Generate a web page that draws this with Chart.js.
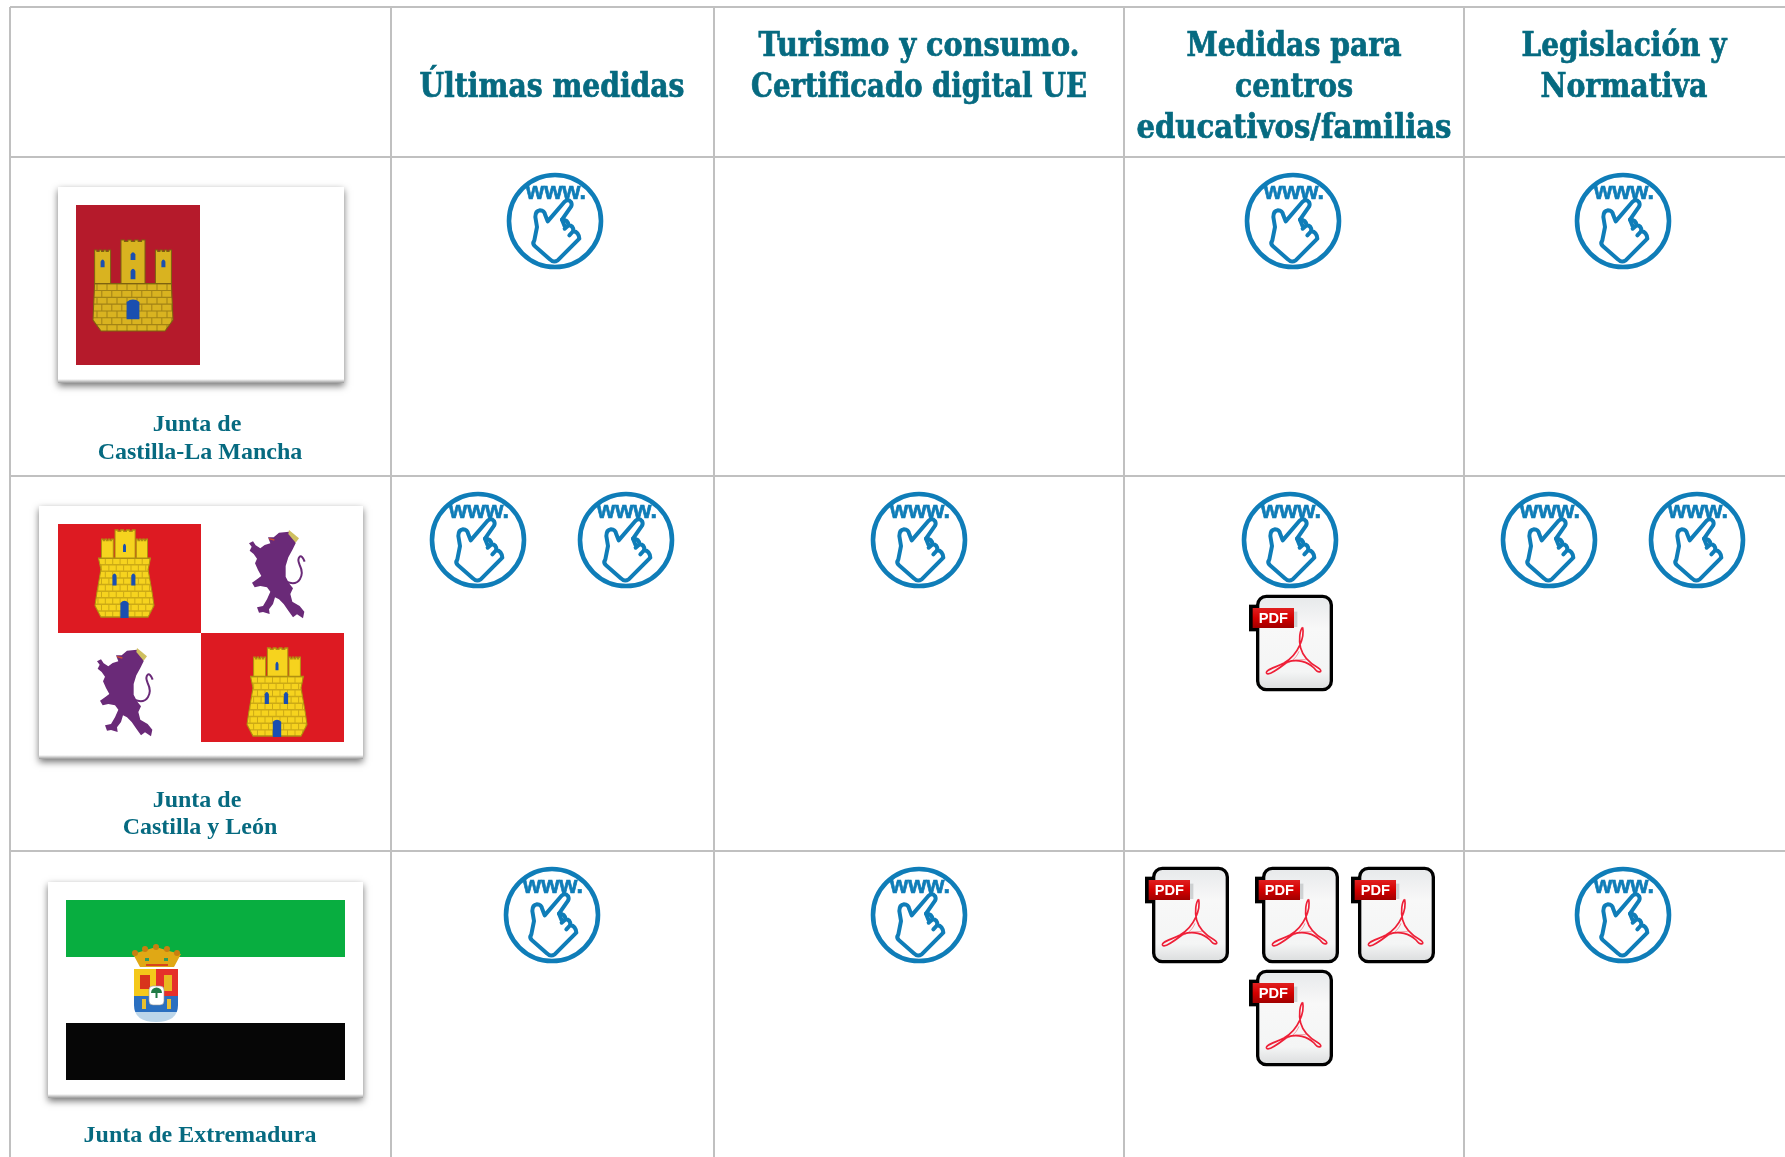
<!DOCTYPE html>
<html lang="es">
<head>
<meta charset="utf-8">
<title>Medidas por comunidad</title>
<script src="https://cdn.jsdelivr.net/npm/chart.js@4"></script>
<style>
  html, body { margin: 0; padding: 0; background: #fff; }
  canvas { display: block; }
</style>
</head>
<body>
<canvas id="tablaChart" width="1785" height="1157"></canvas>
<script>
// --- Datos ---
const columnEdges = [10, 391, 714, 1124, 1464];
const rowEdges = [7, 157, 476, 851];

const columnHeaders = [
    ['', 'Últimas medidas'],
    ['Turismo y consumo.', 'Certificado digital UE'],
    ['Medidas para', 'centros', 'educativos/familias'],
    ['Legislación y', 'Normativa']
];
const headerWidths = [
    [0, 265],
    [321, 336],
    [215, 118, 315],
    [205, 167]
];
const headerCenterX = [552, 919, 1294, 1624];
const headerLineY = [47, 88, 129];

const regionLabels = [
    ['Junta de', 'Castilla-La Mancha'],
    ['Junta de', 'Castilla y León'],
    ['Junta de Extremadura']
];
const regionLabelX = [[197, 200], [197, 200], [200]];
const regionLabelY = [[425, 453], [801, 828], [1136]];

const wwwX = [555, 1293, 1623, 478, 626, 919, 1290, 1549, 1697, 552, 919, 1623];
const wwwY = [221, 221, 221, 540, 540, 540, 540, 540, 540, 915, 915, 915];

const pdfX = [1291, 1187, 1297, 1393, 1291];
const pdfY = [643, 915, 915, 915, 1018];

const flagX = [201, 201, 205.5];
const flagY = [285, 632.5, 990];

// --- Iconos ---
function newCanvas(w, h) {
    const c = document.createElement('canvas');
    c.width = w;
    c.height = h;
    return c;
}

function makeWwwIcon() {
    const c = newCanvas(104, 104);
    const ctx = c.getContext('2d');
    const blue = '#0f7db8';
    ctx.translate(52, 52);
    ctx.strokeStyle = blue;
    ctx.lineWidth = 4.6;
    ctx.beginPath();
    ctx.arc(0, 0, 46, 0, Math.PI * 2);
    ctx.stroke();

    // mano, coordenadas del recorte 3x con centro en (197,182)
    ctx.save();
    ctx.scale(1 / 3, 1 / 3);
    ctx.translate(-197, -182);
    ctx.lineWidth = 12;
    ctx.lineJoin = 'round';
    ctx.lineCap = 'round';
    ctx.fillStyle = '#fff';
    ctx.beginPath();
    ctx.moveTo(175, 183);
    ctx.lineTo(225, 125);
    ctx.quadraticCurveTo(236, 115, 245, 125);
    ctx.quadraticCurveTo(250, 135, 243, 142);
    ctx.lineTo(218, 178);
    ctx.quadraticCurveTo(236, 178, 238, 195);
    ctx.quadraticCurveTo(252, 195, 252, 212);
    ctx.quadraticCurveTo(268, 215, 270, 235);
    ctx.lineTo(205, 300);
    ctx.quadraticCurveTo(193, 308, 183, 298);
    ctx.lineTo(137, 258);
    ctx.quadraticCurveTo(128, 250, 135, 240);
    ctx.lineTo(143, 200);
    ctx.lineTo(138, 170);
    ctx.quadraticCurveTo(138, 152, 152, 150);
    ctx.quadraticCurveTo(165, 150, 168, 165);
    ctx.closePath();
    ctx.fill();
    ctx.stroke();
    ctx.beginPath();
    ctx.moveTo(218, 178);
    ctx.lineTo(226, 198);
    ctx.moveTo(238, 195);
    ctx.lineTo(226, 205);
    ctx.moveTo(252, 212);
    ctx.lineTo(240, 225);
    ctx.stroke();
    ctx.restore();

    ctx.fillStyle = blue;
    ctx.lineWidth = 0.7;
    ctx.font = 'bold 24px "Liberation Sans"';
    ctx.textAlign = 'center';
    ctx.textBaseline = 'alphabetic';
    ctx.fillText('www.', 1, -22, 60);
    ctx.strokeText('www.', 1, -22, 60);
    return c;
}

function makePdfIcon() {
    const c = newCanvas(92, 104);
    const ctx = c.getContext('2d');
    // coordenadas del recorte 3x, centro (181,190)
    ctx.translate(46, 52);
    ctx.scale(1 / 3, 1 / 3);
    ctx.translate(-181, -190);

    ctx.fillStyle = '#000';
    ctx.fillRect(55, 75, 36, 80);

    const body = ctx.createLinearGradient(0, 45, 0, 335);
    body.addColorStop(0, '#e6e8ea');
    body.addColorStop(0.35, '#f8f8f8');
    body.addColorStop(0.8, '#f4f5f5');
    body.addColorStop(1, '#d8dadb');
    ctx.fillStyle = body;
    ctx.strokeStyle = '#000';
    ctx.lineWidth = 10;
    ctx.beginPath();
    ctx.roundRect(81, 50, 221, 280, 26);
    ctx.fill();
    ctx.stroke();

    ctx.fillStyle = 'rgba(170,175,178,0.5)';
    ctx.fillRect(190, 96, 10, 46);

    const red = ctx.createLinearGradient(0, 85, 0, 145);
    red.addColorStop(0, '#e02020');
    red.addColorStop(0.5, '#d40000');
    red.addColorStop(1, '#a00000');
    ctx.fillStyle = red;
    ctx.fillRect(66, 85, 124, 60);
    ctx.fillStyle = '#fff';
    ctx.font = 'bold 44px "Liberation Sans"';
    ctx.textAlign = 'center';
    ctx.textBaseline = 'middle';
    ctx.fillText('PDF', 128, 117);

    // logo
    ctx.strokeStyle = '#ee2038';
    ctx.lineWidth = 5;
    ctx.lineJoin = 'round';
    ctx.beginPath();
    ctx.moveTo(216, 143);
    ctx.bezierCurveTo(222, 170, 205, 225, 160, 250);
    ctx.bezierCurveTo(130, 265, 102, 272, 108, 281);
    ctx.bezierCurveTo(115, 290, 150, 262, 170, 247);
    ctx.bezierCurveTo(200, 238, 230, 245, 250, 265);
    ctx.bezierCurveTo(265, 285, 280, 275, 262, 264);
    ctx.bezierCurveTo(240, 252, 218, 235, 210, 205);
    ctx.bezierCurveTo(203, 180, 208, 150, 216, 143);
    ctx.stroke();
    ctx.strokeStyle = 'rgba(238,32,56,0.45)';
    ctx.lineWidth = 3;
    ctx.beginPath();
    ctx.moveTo(205, 215);
    ctx.bezierCurveTo(195, 240, 175, 250, 168, 250);
    ctx.moveTo(170, 247);
    ctx.bezierCurveTo(190, 240, 205, 240, 225, 240);
    ctx.stroke();
    return c;
}

// --- Banderas ---
const castleMancha = {
    gold: '#d9b320', line: '#7d6210',
    center: [0.35, 0.65], left: [0.02, 0.22], right: [0.78, 0.98], sideTop: 0.11,
    wallTop: 0.48,
    body: [[0.02, 0.48], [0.98, 0.48], [1, 0.88], [0.9, 1], [0.1, 1], [0, 0.88]],
    arches: [[0.5, 0.13, 0.22, 0.03], [0.5, 0.31, 0.43, 0.03], [0.12, 0.21, 0.3, 0.025], [0.88, 0.21, 0.3, 0.025], [0.5, 0.65, 0.87, 0.08]]
};
const castleLeon = {
    gold: '#f6d31e', line: '#b09010',
    center: [0.34, 0.68], left: [0.11, 0.31], right: [0.7, 0.89], sideTop: 0.105,
    wallTop: 0.32,
    body: [[0.06, 0.32], [0.94, 0.32], [0.9, 0.45], [0.97, 0.72], [1, 0.86], [0.9, 0.99], [0.1, 0.99], [0, 0.86], [0.03, 0.72], [0.1, 0.45]],
    arches: [[0.5, 0.15, 0.25, 0.025], [0.33, 0.49, 0.63, 0.035], [0.65, 0.49, 0.63, 0.035], [0.5, 0.8, 1, 0.07]]
};

function drawCastle(ctx, x, y, w, h, cfg) {
    ctx.save();
    ctx.translate(x, y);
    ctx.scale(w, h);
    function tower(range, top, bottom) {
        const x0 = range[0], x1 = range[1];
        const n = 4;
        const step = (x1 - x0) / (n * 2 - 1);
        ctx.beginPath();
        ctx.moveTo(x0, bottom);
        ctx.lineTo(x0, top);
        for (let i = 0; i < n; i++) {
            const a = x0 + i * 2 * step;
            ctx.lineTo(a + step, top);
            if (i < n - 1) {
                ctx.lineTo(a + step, top + 0.015);
                ctx.lineTo(a + 2 * step, top + 0.015);
                ctx.lineTo(a + 2 * step, top);
            }
        }
        ctx.lineTo(x1, bottom);
        ctx.closePath();
        ctx.fill();
        ctx.stroke();
    }
    ctx.fillStyle = cfg.gold;
    ctx.strokeStyle = cfg.line;
    ctx.lineWidth = 1 / w;
    tower(cfg.center, 0, cfg.wallTop + 0.02);
    tower(cfg.left, cfg.sideTop, cfg.wallTop + 0.02);
    tower(cfg.right, cfg.sideTop, cfg.wallTop + 0.02);
    ctx.beginPath();
    cfg.body.forEach((p, i) => i ? ctx.lineTo(p[0], p[1]) : ctx.moveTo(p[0], p[1]));
    ctx.closePath();
    ctx.fill();
    ctx.stroke();

    // ladrillos
    ctx.save();
    ctx.clip();
    ctx.globalAlpha = 0.6;
    ctx.beginPath();
    for (let r = 0; r < 9; r++) {
        const yy = cfg.wallTop + r * 0.075;
        ctx.moveTo(0, yy);
        ctx.lineTo(1, yy);
        for (let k = 0; k < 8; k++) {
            const xx = 0.05 + k * 0.125 + (r % 2) * 0.06;
            ctx.moveTo(xx, yy);
            ctx.lineTo(xx, yy + 0.075);
        }
    }
    ctx.stroke();
    ctx.restore();

    ctx.fillStyle = '#1a4fb0';
    cfg.arches.forEach(a => {
        ctx.beginPath();
        ctx.moveTo(a[0] - a[3], a[2]);
        ctx.lineTo(a[0] - a[3], a[1] + 0.03);
        ctx.quadraticCurveTo(a[0], a[1] - 0.02, a[0] + a[3], a[1] + 0.03);
        ctx.lineTo(a[0] + a[3], a[2]);
        ctx.closePath();
        ctx.fill();
    });
    ctx.restore();
}

const lionShape = [
    [805, 172], [822, 172], [838, 158], [868, 155], [884, 170], [888, 190], [878, 210], [866, 232],
    [858, 258], [858, 290], [868, 310], [880, 325], [872, 342], [878, 365], [900, 378], [914, 395],
    [910, 415], [892, 403], [880, 412], [866, 392], [852, 372], [838, 358], [826, 352], [820, 372],
    [808, 388], [810, 402], [790, 396], [778, 398], [772, 382], [790, 378], [802, 358], [812, 335],
    [802, 322], [782, 318], [765, 322], [757, 308], [772, 298], [785, 288], [775, 270], [766, 250],
    [772, 236], [762, 222], [750, 212], [756, 200], [748, 190], [760, 184], [768, 196], [782, 205],
    [795, 195], [812, 190]
];

function drawLion(ctx, x, y) {
    // silueta en coordenadas del recorte 3x
    ctx.save();
    ctx.translate(x, y);
    ctx.scale(1 / 3, 1 / 3);
    ctx.translate(-748, -150);
    ctx.fillStyle = '#6a2a78';
    ctx.beginPath();
    lionShape.forEach((p, i) => i ? ctx.lineTo(p[0], p[1]) : ctx.moveTo(p[0], p[1]));
    ctx.closePath();
    ctx.fill();
    ctx.strokeStyle = '#6a2a78';
    ctx.lineWidth = 6;
    ctx.beginPath();
    ctx.moveTo(860, 305);
    ctx.bezierCurveTo(900, 322, 915, 285, 900, 255);
    ctx.bezierCurveTo(890, 232, 905, 215, 915, 245);
    ctx.stroke();
    ctx.fillStyle = '#cfc060';
    ctx.beginPath();
    ctx.moveTo(868, 150);
    ctx.lineTo(898, 175);
    ctx.lineTo(888, 188);
    ctx.lineTo(866, 162);
    ctx.closePath();
    ctx.fill();
    ctx.strokeStyle = '#d05030';
    ctx.lineWidth = 4;
    ctx.beginPath();
    ctx.moveTo(808, 176);
    ctx.lineTo(824, 180);
    ctx.stroke();
    ctx.restore();
}

function drawExtremaduraCrest(ctx, ox, oy) {
    // coordenadas respecto a la bandera
    ctx.fillStyle = '#e0a815';
    ctx.beginPath();
    ctx.moveTo(ox + 2, oy + 10);
    ctx.lineTo(ox + 12, oy + 7);
    ctx.lineTo(ox + 25, oy + 3);
    ctx.lineTo(ox + 38, oy + 7);
    ctx.lineTo(ox + 50, oy + 10);
    ctx.lineTo(ox + 43, oy + 23);
    ctx.lineTo(ox + 9, oy + 23);
    ctx.closePath();
    ctx.fill();
    ctx.fillStyle = '#c87f10';
    [4, 14, 25, 36, 46].forEach((dx, i) => {
        ctx.beginPath();
        ctx.arc(ox + dx, oy + (i === 2 ? 3 : i % 4 ? 5 : 9), 3, 0, Math.PI * 2);
        ctx.fill();
    });
    ctx.fillStyle = '#d8441c';
    ctx.fillRect(ox + 15, oy + 20, 22, 2);
    ctx.fillStyle = '#2f9a5a';
    ctx.fillRect(ox + 14, oy + 14, 4, 3);
    ctx.fillRect(ox + 33, oy + 14, 4, 3);

    const sx = ox + 3, sy = oy + 25, sw = 44, sh = 53;
    ctx.save();
    ctx.beginPath();
    ctx.moveTo(sx, sy);
    ctx.lineTo(sx + sw, sy);
    ctx.lineTo(sx + sw, sy + 36);
    ctx.quadraticCurveTo(sx + sw, sy + sh, sx + sw / 2, sy + sh);
    ctx.quadraticCurveTo(sx, sy + sh, sx, sy + 36);
    ctx.closePath();
    ctx.clip();
    ctx.fillStyle = '#f4c81a';
    ctx.fillRect(sx, sy, sw / 2, 27);
    ctx.fillStyle = '#e5302a';
    ctx.fillRect(sx + sw / 2, sy, sw / 2, 27);
    ctx.fillStyle = '#2a6fc0';
    ctx.fillRect(sx, sy + 27, sw, 16);
    ctx.fillStyle = '#bcd6ea';
    ctx.fillRect(sx, sy + 43, sw, 10);
    ctx.fillStyle = '#d8341c';
    ctx.fillRect(sx + 6, sy + 6, 10, 14);
    ctx.fillStyle = '#e8b820';
    ctx.fillRect(sx + 30, sy + 6, 8, 16);
    ctx.restore();

    ctx.fillStyle = '#fff';
    ctx.strokeStyle = '#999';
    ctx.lineWidth = 0.6;
    ctx.beginPath();
    ctx.roundRect(sx + 15, sy + 17, 15, 19, 4);
    ctx.fill();
    ctx.stroke();
    ctx.fillStyle = '#1f7a45';
    ctx.beginPath();
    ctx.arc(sx + 22.5, sy + 24, 5.5, Math.PI, 0);
    ctx.fill();
    ctx.fillRect(sx + 21.5, sy + 24, 2, 5);
    ctx.fillStyle = '#e8c030';
    ctx.fillRect(sx + 8, sy + 30, 4, 10);
    ctx.fillRect(sx + 33, sy + 30, 4, 10);
}

function makeFlag(w, h, paint) {
    const pad = 14;
    const c = newCanvas(w + pad * 2, h + pad * 2);
    const ctx = c.getContext('2d');
    ctx.translate(pad, pad);
    ctx.save();
    ctx.shadowColor = 'rgba(0,0,0,0.55)';
    ctx.shadowBlur = 7;
    ctx.shadowOffsetY = 3;
    ctx.fillStyle = '#fff';
    ctx.fillRect(0, 0, w, h);
    ctx.restore();
    // borde inferior mas oscuro
    const g = ctx.createLinearGradient(0, h - 4, 0, h);
    g.addColorStop(0, 'rgba(120,120,120,0)');
    g.addColorStop(1, 'rgba(120,120,120,0.75)');
    ctx.fillStyle = g;
    ctx.fillRect(0, h - 4, w, 4);
    ctx.filter = 'blur(0.5px)';
    paint(ctx);
    ctx.filter = 'none';
    return c;
}

const flagCastillaMancha = makeFlag(286, 196, ctx => {
    ctx.fillStyle = '#b51a2b';
    ctx.fillRect(18, 18, 124, 160);
    drawCastle(ctx, 35, 53, 80, 91, castleMancha);
});

const flagCastillaLeon = makeFlag(324, 253, ctx => {
    ctx.fillStyle = '#dd1a22';
    ctx.fillRect(19, 18, 143, 109);
    ctx.fillRect(162, 127, 143, 109);
    drawCastle(ctx, 56, 24, 59, 88, castleLeon);
    drawCastle(ctx, 208, 142, 60, 89, castleLeon);
    drawLion(ctx, 210, 24);
    drawLion(ctx, 58, 142);
});

const flagExtremadura = makeFlag(315, 216, ctx => {
    ctx.fillStyle = '#08ae40';
    ctx.fillRect(18, 18, 279, 57);
    ctx.fillStyle = '#060606';
    ctx.fillRect(18, 141, 279, 57);
    drawExtremaduraCrest(ctx, 83, 62);
});

const wwwIcon = makeWwwIcon();
const pdfIcon = makePdfIcon();
const flagIcons = [flagCastillaMancha, flagCastillaLeon, flagExtremadura];

function toPoints(xs, ys) {
    return xs.map((x, i) => ({ x: x, y: ys[i] }));
}

// --- Textos de la tabla ---
const textPlugin = {
    id: 'tablaTextos',
    afterDatasetsDraw(chart) {
        const ctx = chart.ctx;
        const sx = chart.scales.x;
        const sy = chart.scales.y;
        ctx.save();
        ctx.textAlign = 'center';
        ctx.textBaseline = 'middle';
        ctx.fillStyle = '#066a80';
        ctx.strokeStyle = '#066a80';
        ctx.lineWidth = 0.7;
        ctx.font = 'bold 33px "DejaVu Serif Condensed", "DejaVu Serif"';
        columnHeaders.forEach((lines, c) => {
            lines.forEach((line, l) => {
                if (!line) return;
                const px = sx.getPixelForValue(headerCenterX[c]);
                const py = sy.getPixelForValue(headerLineY[l]);
                ctx.fillText(line, px, py, headerWidths[c][l]);
                ctx.strokeText(line, px, py, headerWidths[c][l]);
            });
        });
        ctx.font = 'bold 24px "Liberation Serif"';
        regionLabels.forEach((lines, r) => {
            lines.forEach((line, l) => {
                ctx.fillText(line, sx.getPixelForValue(regionLabelX[r][l]), sy.getPixelForValue(regionLabelY[r][l]));
            });
        });
        ctx.restore();
    }
};

new Chart(document.getElementById('tablaChart'), {
    type: 'scatter',
    data: {
        datasets: [
            { label: 'Web', data: toPoints(wwwX, wwwY), pointStyle: wwwIcon, pointRadius: 5 },
            { label: 'PDF', data: toPoints(pdfX, pdfY), pointStyle: pdfIcon, pointRadius: 5 },
            { label: 'Banderas', data: toPoints(flagX, flagY), pointStyle: flagIcons, pointRadius: 5 }
        ]
    },
    plugins: [textPlugin],
    options: {
        responsive: false,
        animation: false,
        layout: { autoPadding: false, padding: { left: 10, top: 7, right: 0, bottom: 0 } },
        scales: {
            x: {
                type: 'linear',
                min: 10,
                max: 1785,
                border: { display: false },
                grid: { color: '#c0c0c0', lineWidth: 2, drawTicks: false },
                ticks: { display: false, autoSkip: false },
                afterBuildTicks: scale => { scale.ticks = columnEdges.map(v => ({ value: v })); }
            },
            y: {
                type: 'linear',
                reverse: true,
                min: 7,
                max: 1157,
                border: { display: false },
                grid: { color: '#c0c0c0', lineWidth: 2, drawTicks: false },
                ticks: { display: false, autoSkip: false },
                afterBuildTicks: scale => { scale.ticks = rowEdges.map(v => ({ value: v })); }
            }
        },
        plugins: {
            legend: { display: false },
            tooltip: { enabled: false }
        }
    }
});
</script>
</body>
</html>
